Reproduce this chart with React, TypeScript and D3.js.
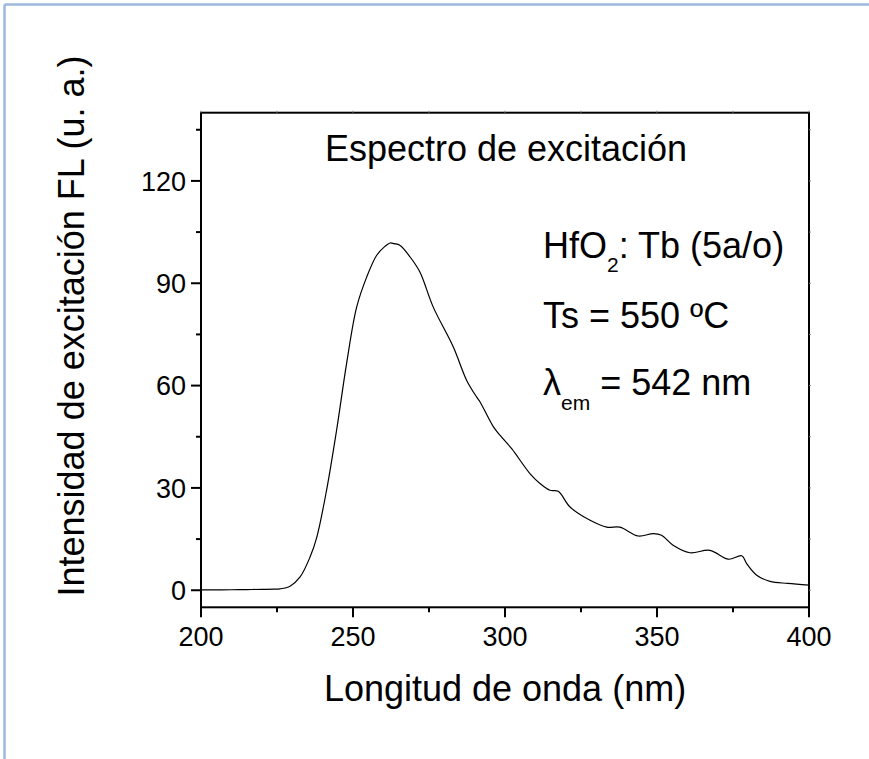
import React from "react";
import * as d3 from "d3";

const wavelength = [
  200, 205, 210, 215, 220, 224, 226, 229.3, 232.6, 235.9, 238.1, 241.3, 244.6, 247.9,
  251.2, 254.5, 257.8, 260.5, 262.2, 263.5, 265.5, 268.8, 272.0, 276.4, 283.0, 287.4,
  290.7, 291.8, 296.2, 298.4, 302.2, 308.2, 311.5, 314.8, 317.5, 321.4, 328.0, 333.5,
  337.8, 343.8, 348.8, 351.5, 355.3, 360.8, 367.4, 373.5, 377.9, 379.5, 382.8, 387.2,
  393, 400,
];
const intensity = [
  0.1, 0.1, 0.15, 0.2, 0.25, 0.3, 0.4, 1.2, 3.9, 9.8, 15.6, 29.3, 46.9, 66.5,
  83.0, 91.8, 98.2, 100.8, 101.8, 101.6, 101.1, 97.7, 93.3, 83.0, 71.3, 61.5,
  56.6, 55.2, 47.9, 45.4, 41.5, 34.2, 31.3, 29.3, 29.0, 24.4, 20.5, 18.5,
  18.5, 15.9, 16.6, 16.1, 13.2, 11.0, 11.7, 9.1, 10.1, 7.8, 4.4, 2.6,
  2.0, 1.5,
];

const xMajor = [200, 250, 300, 350, 400];
const xMinor = [225, 275, 325, 375];
const yMajor = [0, 30, 60, 90, 120];
const yMinor = [15, 45, 75, 105, 135];

const W = 869;
const H = 759;
const FONT = "'Liberation Sans', Arial, sans-serif";

export default function App() {
  const x = d3.scaleLinear().domain([200, 400]).range([201, 809]);
  const y = d3.scaleLinear().domain([-5, 140]).range([607.3, 112.7]);
  const pts: [number, number][] = wavelength.map((w, i) => [w, intensity[i]]);
  const line = d3
    .line<[number, number]>()
    .x((d) => x(d[0]))
    .y((d) => y(d[1]))
    .curve(d3.curveCatmullRom.alpha(0.5));

  const [x0, x1] = x.range();
  const [yb, yt] = y.range();

  return (
    <svg
      width={W}
      height={H}
      style={{ position: "absolute", left: 0, top: 0, background: "#fff" }}
      fontFamily={FONT}
    >
      <rect x={0} y={0} width={W} height={H} fill="#fff" />
      {/* outer frame */}
      <line x1={4.5} y1={4.5} x2={4.5} y2={H} stroke="#9cb8de" strokeWidth={2.5} />
      <line x1={4.5} y1={4.5} x2={W} y2={4.5} stroke="#9cb8de" strokeWidth={2.5} />

      {/* curve */}
      <path d={line(pts) || ""} fill="none" stroke="#000" strokeWidth={1.2} />

      {/* plot frame */}
      <rect x={x0} y={yt} width={x1 - x0} height={yb - yt} fill="none" stroke="#000" strokeWidth={2} />

      {/* y ticks */}
      {yMajor.map((v) => (
        <g key={"ym" + v}>
          <line x1={x0 - 10} x2={x0} y1={y(v)} y2={y(v)} stroke="#000" strokeWidth={2} />
          <line x1={x1} x2={x1 + 2} y1={y(v)} y2={y(v)} stroke="#888" strokeWidth={1} />
          <text x={x0 - 15} y={y(v)} dy="0.36em" textAnchor="end" fontSize={27}>
            {v}
          </text>
        </g>
      ))}
      {yMinor.map((v) => (
        <g key={"yn" + v}>
          <line x1={x0 - 5} x2={x0} y1={y(v)} y2={y(v)} stroke="#000" strokeWidth={2} />
          <line x1={x1} x2={x1 + 2} y1={y(v)} y2={y(v)} stroke="#888" strokeWidth={1} />
        </g>
      ))}

      {/* x ticks */}
      {xMajor.map((v) => (
        <g key={"xm" + v}>
          <line x1={x(v)} x2={x(v)} y1={yb} y2={yb + 10} stroke="#000" strokeWidth={2} />
          <line x1={x(v)} x2={x(v)} y1={yt - 2} y2={yt} stroke="#888" strokeWidth={1} />
          <text x={x(v)} y={646} textAnchor="middle" fontSize={27}>
            {v}
          </text>
        </g>
      ))}
      {xMinor.map((v) => (
        <g key={"xn" + v}>
          <line x1={x(v)} x2={x(v)} y1={yb} y2={yb + 5} stroke="#000" strokeWidth={2} />
          <line x1={x(v)} x2={x(v)} y1={yt - 2} y2={yt} stroke="#888" strokeWidth={1} />
        </g>
      ))}

      {/* axis titles */}
      <text x={505} y={701} textAnchor="middle" fontSize={36}>
        Longitud de onda (nm)
      </text>
      <text
        transform="translate(84,326) rotate(-90)"
        textAnchor="middle"
        fontSize={36}
      >
        Intensidad de excitación FL (u. a.)
      </text>

      {/* title */}
      <text x={506} y={161} textAnchor="middle" fontSize={36}>
        Espectro de excitación
      </text>

      {/* annotations */}
      <text x={543} y={258} fontSize={36}>
        HfO
        <tspan fontSize={21} dy={14}>2</tspan>
        <tspan dy={-14}>: Tb (5a/o)</tspan>
      </text>
      <text x={543} y={328} fontSize={36}>
        Ts = 550 ºC
      </text>
      <text x={543} y={395} fontSize={36}>
        λ
        <tspan fontSize={21} dy={15}>em</tspan>
        <tspan dy={-15}> = 542 nm</tspan>
      </text>
    </svg>
  );
}
